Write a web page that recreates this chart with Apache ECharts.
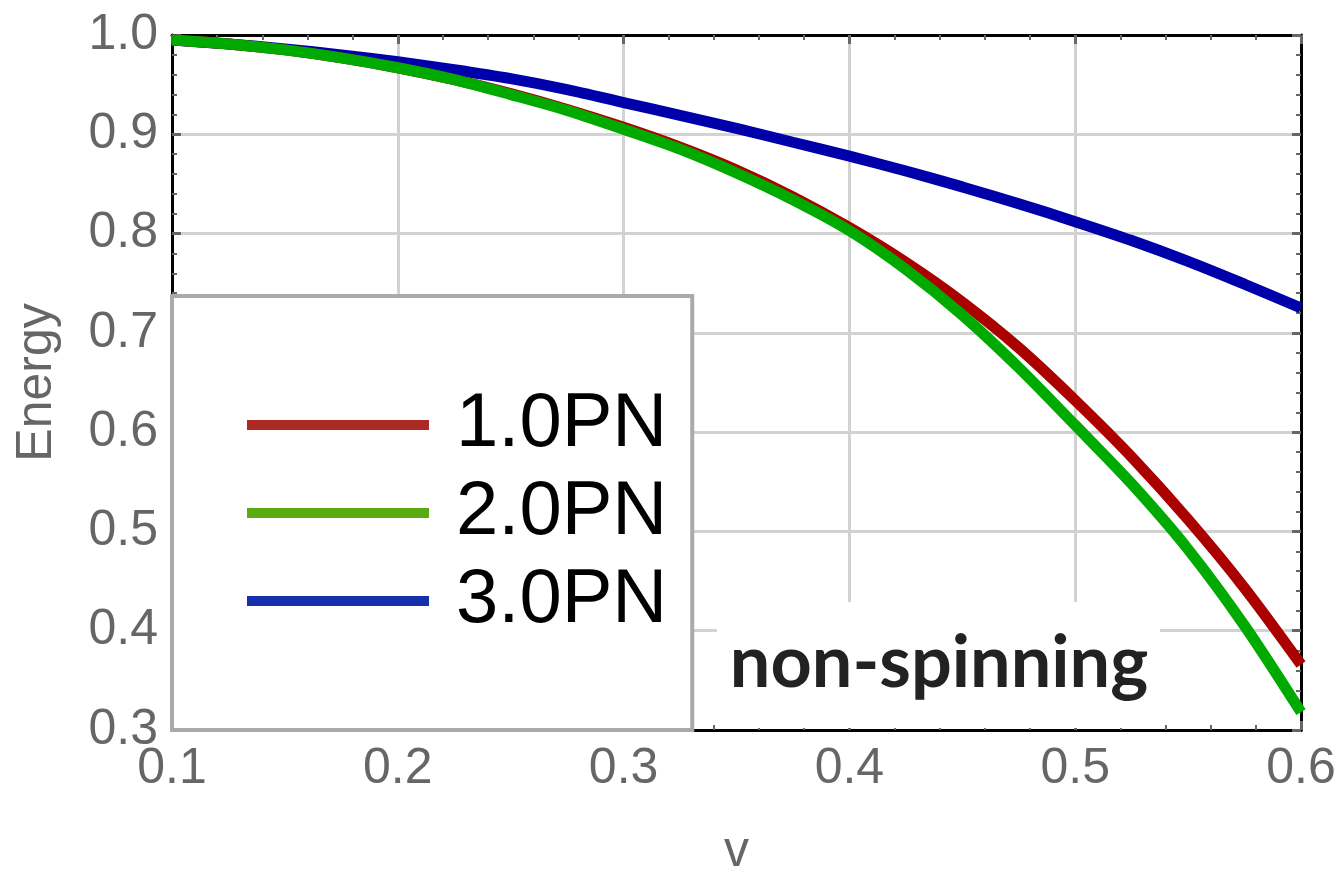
<!DOCTYPE html>
<html>
<head>
<meta charset="utf-8">
<script src="https://cdn.jsdelivr.net/npm/echarts@6/dist/echarts.min.js"></script>
<style>
html,body{margin:0;padding:0;background:#fff;}
#chart{width:1341px;height:872px;}
</style>
</head>
<body>
<div id="chart"></div>
<script>
// ---- data ----
var vValues   = [0.100, 0.125, 0.150, 0.175, 0.200, 0.225, 0.250, 0.275, 0.300, 0.325, 0.350,
                 0.375, 0.400, 0.425, 0.450, 0.475, 0.500, 0.525, 0.550, 0.575, 0.600];
var pn1Energy = [0.995, 0.991, 0.985, 0.977, 0.967, 0.955, 0.941, 0.925, 0.907, 0.887, 0.864,
                 0.837, 0.806, 0.771, 0.731, 0.685, 0.632, 0.575, 0.512, 0.443, 0.366];
var pn2Energy = [0.995, 0.991, 0.985, 0.977, 0.967, 0.955, 0.940, 0.924, 0.905, 0.885, 0.861,
                 0.834, 0.803, 0.764, 0.718, 0.665, 0.607, 0.548, 0.482, 0.405, 0.318];
var pn3Energy = [0.995, 0.991, 0.986, 0.980, 0.973, 0.965, 0.956, 0.945, 0.932, 0.919, 0.906,
                 0.892, 0.878, 0.863, 0.847, 0.830, 0.812, 0.793, 0.772, 0.749, 0.725];
var seriesNames = ['1.0PN', '2.0PN', '3.0PN'];
var xTicks = [0.1, 0.2, 0.3, 0.4, 0.5, 0.6];
var yTicks = [0.3, 0.4, 0.5, 0.6, 0.7, 0.8, 0.9, 1.0];
var annotationText = 'non-spinning';

function pairs(xs, ys) { return xs.map(function (x, i) { return [x, ys[i]]; }); }

var chart = echarts.init(document.getElementById('chart'), null, {renderer: 'canvas'});

var labelFont = {fontFamily: 'Liberation Sans', fontSize: 50, color: '#666666'};

function xAxisCfg(pos, showLabels) {
  return {
    type: 'value', position: pos,
    min: xTicks[0], max: xTicks[xTicks.length - 1], interval: 0.1,
    axisLine: {show: true, onZero: false, lineStyle: {color: '#000', width: 3}},
    axisTick: {show: true, inside: true, length: 9, lineStyle: {color: '#666', width: 3}},
    minorTick: {show: true, splitNumber: 5, length: 5, lineStyle: {color: '#666', width: 2}},
    splitLine: {show: showLabels, lineStyle: {color: '#d2d2d2', width: 3}},
    axisLabel: {show: showLabels, margin: 14, fontFamily: labelFont.fontFamily, fontSize: labelFont.fontSize, color: labelFont.color,
      formatter: function (v) { return v.toFixed(1); }},
    name: showLabels ? 'v' : '',
    nameLocation: 'middle', nameGap: 97,
    nameTextStyle: labelFont
  };
}
function yAxisCfg(pos, showLabels) {
  return {
    type: 'value', position: pos,
    min: yTicks[0], max: yTicks[yTicks.length - 1], interval: 0.1,
    axisLine: {show: true, onZero: false, lineStyle: {color: '#000', width: 3}},
    axisTick: {show: true, inside: true, length: 9, lineStyle: {color: '#666', width: 3}},
    minorTick: {show: true, splitNumber: 5, length: 5, lineStyle: {color: '#666', width: 2}},
    splitLine: {show: showLabels, lineStyle: {color: '#d2d2d2', width: 3}},
    axisLabel: {show: showLabels, margin: 14, fontFamily: labelFont.fontFamily, fontSize: labelFont.fontSize, color: labelFont.color,
      formatter: function (v) { return v.toFixed(1); }},
    name: showLabels ? 'Energy' : '',
    nameLocation: 'middle', nameGap: 110,
    nameTextStyle: labelFont
  };
}

var lineColors = ['#aa0000', '#00aa00', '#0000aa'];
var legendColors = ['#ab2b24', '#5aab12', '#1530aa'];
var energies = [pn1Energy, pn2Energy, pn3Energy];
var zOrder = [3, 4, 2];

var option = {
  animation: false,
  backgroundColor: '#ffffff',
  grid: {left: 172, right: 40, top: 35, bottom: 142, containLabel: false, outerBoundsMode: 'none'},
  xAxis: [xAxisCfg('bottom', true), xAxisCfg('top', false)],
  yAxis: [yAxisCfg('left', true), yAxisCfg('right', false)],
  legend: {
    orient: 'vertical', left: 172, top: 296,
    icon: 'rect', itemWidth: 182, itemHeight: 10, itemGap: 8,
    padding: [89, 25, 89, 75],
    backgroundColor: '#ffffff', borderColor: '#a9aba9', borderWidth: 4,
    textStyle: {fontFamily: 'Liberation Sans', fontSize: 76, color: '#000', lineHeight: 80, padding: [0, 0, 0, 22]},
    data: seriesNames.map(function (n, i) { return {name: n, itemStyle: {color: legendColors[i]}}; })
  },
  graphic: [
    {type: 'rect', z: 5, shape: {x: 717, y: 602, width: 443, height: 126}, style: {fill: '#ffffff'}},
    {type: 'text', z: 6, x: 939, y: 664, style: {text: annotationText, fontFamily: 'Lato', fontWeight: 'bold',
      fontSize: 72, fill: '#222222', align: 'center', verticalAlign: 'middle'}}
  ],
  series: seriesNames.map(function (n, i) {
    return {
      name: n, type: 'line', xAxisIndex: 0, yAxisIndex: 0,
      data: pairs(vValues, energies[i]),
      smooth: 0.3, showSymbol: false, symbol: 'none', z: zOrder[i],
      lineStyle: {color: lineColors[i], width: 11},
      itemStyle: {color: lineColors[i]}
    };
  })
};
chart.setOption(option);
</script>
</body>
</html>
